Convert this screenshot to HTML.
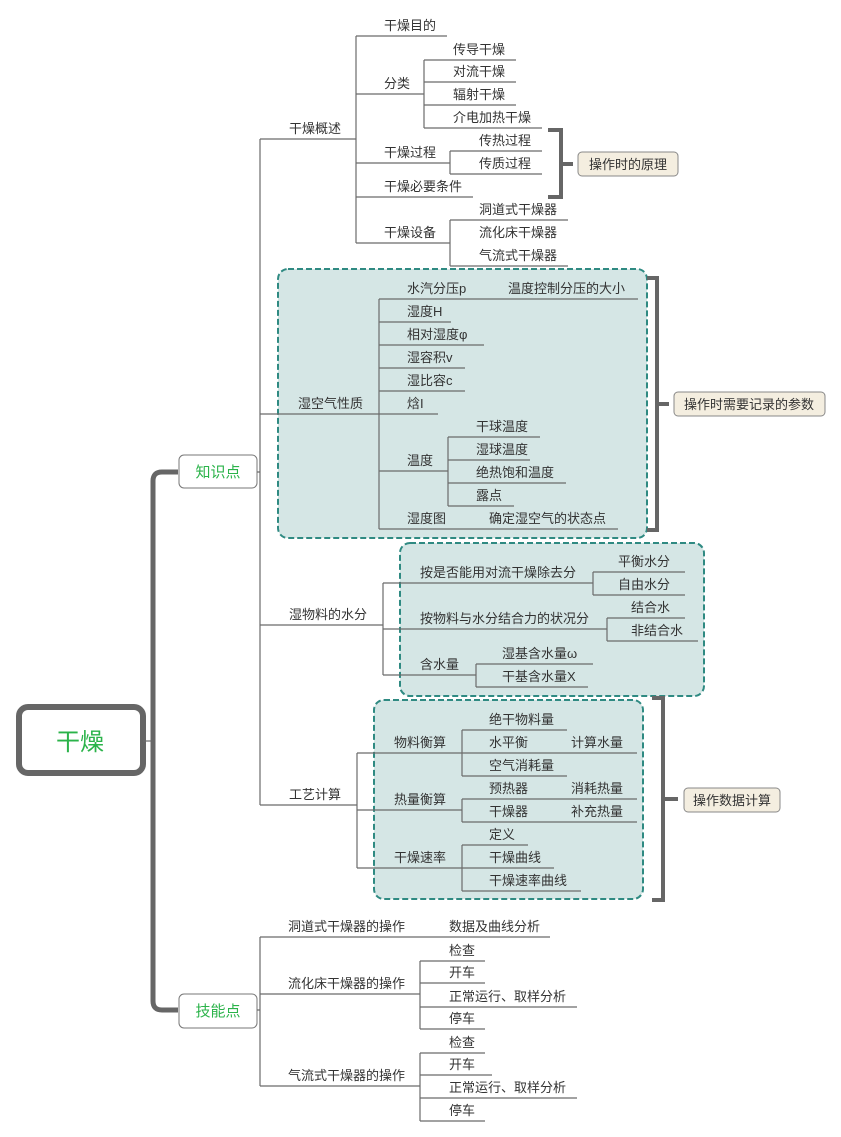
<!DOCTYPE html>
<html><head><meta charset="utf-8"><style>
html,body{margin:0;padding:0;background:#fff;}
svg{display:block;}
text{font-family:"Liberation Sans","Noto Sans CJK SC",sans-serif;font-size:13px;fill:#333;}
.l{stroke:#6b6b6b;stroke-width:1.2;fill:none;}
.br{stroke:#666;stroke-width:4;fill:none;}
.box{fill:#d5e6e5;stroke:#2f8a82;stroke-width:2;stroke-dasharray:6,3;}
.lab{fill:#f4eee0;stroke:#888;stroke-width:1;}
</style></head><body>
<svg width="841" height="1137" viewBox="0 0 841 1137" xmlns="http://www.w3.org/2000/svg">
<!-- dashed boxes -->
<rect class="box" x="278" y="269" width="369" height="269" rx="10"/>
<rect class="box" x="400" y="543" width="304" height="153" rx="10"/>
<rect class="box" x="374" y="700" width="269" height="199" rx="10"/>

<!-- root -->
<rect x="19" y="707" width="124" height="66" rx="9" fill="#fff" stroke="#666" stroke-width="6"/>
<text x="80" y="750" text-anchor="middle" style="font-size:24px;fill:#2bb34a">干燥</text>
<path d="M143 741 H152" class="l"/>
<path d="M178 472 H162 Q153 472 153 481 V1001 Q153 1010 162 1010 H178" stroke="#666" stroke-width="5" fill="none"/>
<rect x="179" y="455" width="78" height="33" rx="5" fill="#fff" stroke="#777"/>
<text x="218" y="477" text-anchor="middle" style="font-size:15px;fill:#2bb34a">知识点</text>
<rect x="179" y="994" width="78" height="34" rx="5" fill="#fff" stroke="#777"/>
<text x="218" y="1016" text-anchor="middle" style="font-size:15px;fill:#2bb34a">技能点</text>

<!-- 知识点 level -->
<path class="l" d="M257 472 H260 M260 139 V805 M260 139 H356 M260 414 H438 M260 625 H383 M260 805 H357"/>
<text x="289" y="133">干燥概述</text>
<text x="298" y="408">湿空气性质</text>
<text x="289" y="619">湿物料的水分</text>
<text x="289" y="799">工艺计算</text>

<!-- 干燥概述 -->
<path class="l" d="M356 36 V243 M356 36 H447 M356 94 H424 M356 163 H450 M356 197 H473 M356 243 H450
M424 60 V128 M424 60 H516 M424 82 H516 M424 105 H516 M424 128 H542
M450 151 V174 M450 151 H542 M450 174 H542
M450 220 V266 M450 220 H568 M450 266 H568"/>
<text x="384" y="30">干燥目的</text>
<text x="384" y="88">分类</text>
<text x="453" y="54">传导干燥</text>
<text x="453" y="76">对流干燥</text>
<text x="453" y="99">辐射干燥</text>
<text x="453" y="122">介电加热干燥</text>
<text x="384" y="157">干燥过程</text>
<text x="479" y="145">传热过程</text>
<text x="479" y="168">传质过程</text>
<text x="384" y="191">干燥必要条件</text>
<text x="384" y="237">干燥设备</text>
<text x="479" y="214">洞道式干燥器</text>
<text x="479" y="237">流化床干燥器</text>
<text x="479" y="260">气流式干燥器</text>
<path class="br" d="M548 130 H561 V197 H548 M561 164 H573"/>
<rect class="lab" x="578" y="152" width="100" height="24" rx="4"/>
<text x="628" y="169" text-anchor="middle">操作时的原理</text>

<!-- 湿空气性质 -->
<path class="l" d="M379 299 V529 M379 299 H638 M379 322 H451 M379 345 H484 M379 368 H465 M379 391 H465 M379 471 H448 M379 529 H618
M448 437 V506 M448 437 H540 M448 460 H530 M448 483 H566 M448 506 H514"/>
<text x="407" y="293">水汽分压p</text>
<text x="508" y="293">温度控制分压的大小</text>
<text x="407" y="316">湿度H</text>
<text x="407" y="339">相对湿度φ</text>
<text x="407" y="362">湿容积v</text>
<text x="407" y="385">湿比容c</text>
<text x="407" y="408">焓I</text>
<text x="407" y="465">温度</text>
<text x="476" y="431">干球温度</text>
<text x="476" y="454">湿球温度</text>
<text x="476" y="477">绝热饱和温度</text>
<text x="476" y="500">露点</text>
<text x="407" y="523">湿度图</text>
<text x="489" y="523">确定湿空气的状态点</text>
<path class="br" d="M647 278 H657 V530 H647 M657 404 H669"/>
<rect class="lab" x="674" y="392" width="151" height="24" rx="4"/>
<text x="749" y="409" text-anchor="middle">操作时需要记录的参数</text>

<!-- 湿物料的水分 -->
<path class="l" d="M383 583 V675 M383 583 H593 M383 629 H607 M383 675 H476
M593 572 V595 M593 572 H685 M593 595 H685
M607 618 V641 M607 618 H685 M607 641 H698
M476 664 V687 M476 664 H593 M476 687 H588"/>
<text x="420" y="577">按是否能用对流干燥除去分</text>
<text x="618" y="566">平衡水分</text>
<text x="618" y="589">自由水分</text>
<text x="420" y="623">按物料与水分结合力的状况分</text>
<text x="631" y="612">结合水</text>
<text x="631" y="635">非结合水</text>
<text x="420" y="669">含水量</text>
<text x="502" y="658">湿基含水量ω</text>
<text x="502" y="681">干基含水量X</text>

<!-- 工艺计算 -->
<path class="l" d="M357 753 V868 M357 753 H462 M357 810 H462 M357 868 H554
M462 730 V776 M462 730 H567 M462 753 H637 M462 776 H567
M462 799 V822 M462 799 H637 M462 822 H637
M462 845 V891 M462 845 H528 M462 868 H554 M462 891 H581"/>
<text x="394" y="747">物料衡算</text>
<text x="489" y="724">绝干物料量</text>
<text x="489" y="747">水平衡</text>
<text x="571" y="747">计算水量</text>
<text x="489" y="770">空气消耗量</text>
<text x="394" y="804">热量衡算</text>
<text x="489" y="793">预热器</text>
<text x="571" y="793">消耗热量</text>
<text x="489" y="816">干燥器</text>
<text x="571" y="816">补充热量</text>
<text x="394" y="862">干燥速率</text>
<text x="489" y="839">定义</text>
<text x="489" y="862">干燥曲线</text>
<text x="489" y="885">干燥速率曲线</text>
<path class="br" d="M652 698 H663 V900 H652 M663 799 H678"/>
<rect class="lab" x="684" y="788" width="96" height="24" rx="4"/>
<text x="732" y="805" text-anchor="middle">操作数据计算</text>

<!-- 技能点 -->
<path class="l" d="M257 1010 H260 M260 937 V1086 M260 937 H550 M260 994 H420 M260 1086 H420
M420 961 V1029 M420 961 H485 M420 983 H485 M420 1007 H577 M420 1029 H485
M420 1053 V1121 M420 1053 H485 M420 1075 H492 M420 1098 H577 M420 1121 H485"/>
<text x="288" y="931">洞道式干燥器的操作</text>
<text x="449" y="931">数据及曲线分析</text>
<text x="288" y="988">流化床干燥器的操作</text>
<text x="449" y="955">检查</text>
<text x="449" y="977">开车</text>
<text x="449" y="1001">正常运行、取样分析</text>
<text x="449" y="1023">停车</text>
<text x="288" y="1080">气流式干燥器的操作</text>
<text x="449" y="1047">检查</text>
<text x="449" y="1069">开车</text>
<text x="449" y="1092">正常运行、取样分析</text>
<text x="449" y="1115">停车</text>
</svg>
</body></html>
